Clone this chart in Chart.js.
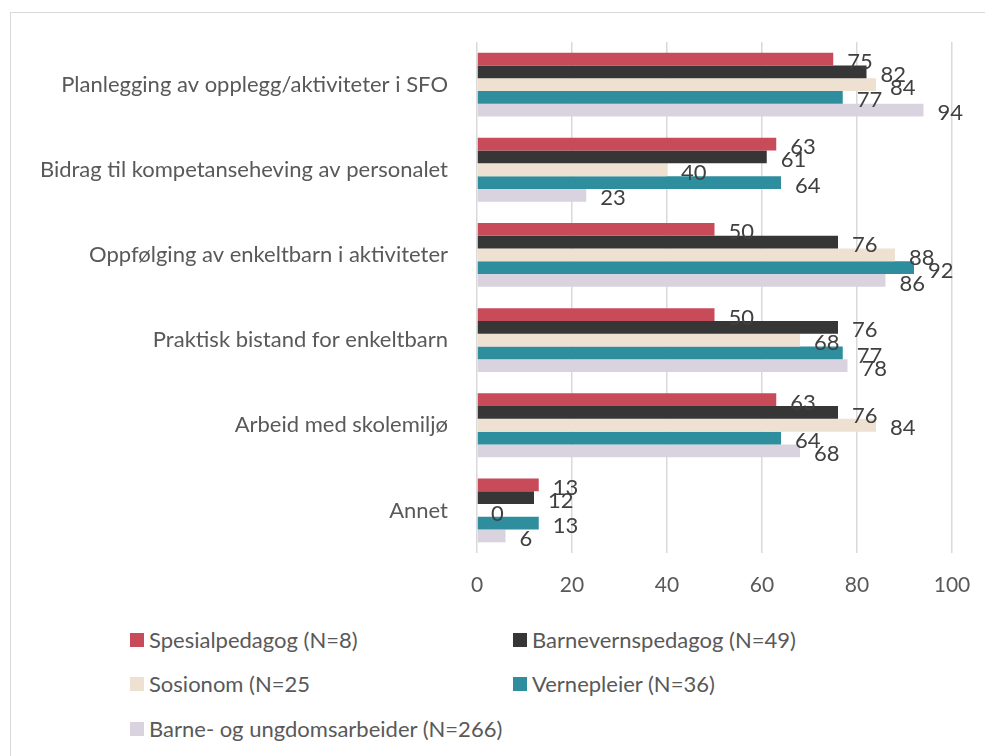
<!DOCTYPE html>
<html>
<head>
<meta charset="utf-8">
<script src="https://cdn.jsdelivr.net/npm/chart.js@4"></script>
<style>
  body { margin: 0; background: #fff; font-family: Lato, sans-serif; }
  #wrap { position: relative; width: 985px; height: 756px; overflow: hidden; }
  #frame { position: absolute; left: 10px; top: 12px; width: 1000px; height: 800px; border: 1px solid #d9d9d9; }
  #chartBox { position: absolute; left: 0; top: 0; width: 985px; height: 605px; }
  #legend { position: absolute; left: 130px; top: 626px; width: 750px; }
  .item { position: absolute; display: flex; align-items: center; font-size: 22px; color: #595959; white-space: nowrap; }
  .box { width: 14px; height: 14px; margin-right: 5px; }
</style>
</head>
<body>
<div id="wrap">
  <div id="frame"></div>
  <div id="chartBox"><canvas id="myChart"></canvas></div>
  <div id="legend"></div>
</div>
<script>
var categories = [
    'Planlegging av opplegg/aktiviteter i SFO',
    'Bidrag til kompetanseheving av personalet',
    'Oppfølging av enkeltbarn i aktiviteter',
    'Praktisk bistand for enkeltbarn',
    'Arbeid med skolemiljø',
    'Annet'
];
var seriesNames = [
    'Spesialpedagog (N=8)',
    'Barnevernspedagog (N=49)',
    'Sosionom (N=25',
    'Vernepleier (N=36)',
    'Barne- og ungdomsarbeider (N=266)'
];
var spesialpedagog = [75, 63, 50, 50, 63, 13];
var barnevernspedagog = [82, 61, 76, 76, 76, 12];
var sosionom = [84, 40, 88, 68, 84, 0];
var vernepleier = [77, 64, 92, 77, 64, 13];
var ungdomsarbeider = [94, 23, 86, 78, 68, 6];
var xTicks = [0, 20, 40, 60, 80, 100];
var colors = ['#C84B5A', '#363636', '#EEE1D1', '#2E8E9E', '#D9D3E0'];

var allValues = [spesialpedagog, barnevernspedagog, sosionom, vernepleier, ungdomsarbeider];

var datasets = allValues.map(function(vals, i) {
    return {
        label: seriesNames[i],
        data: vals,
        backgroundColor: colors[i],
        borderWidth: 0,
        categoryPercentage: 0.75,
        barPercentage: 1.0
    };
});

// draw value labels just past the end of each bar
var valueLabels = {
    id: 'valueLabels',
    afterDatasetsDraw: function(chart) {
        var ctx = chart.ctx;
        ctx.save();
        ctx.font = '22px Lato, sans-serif';
        ctx.fillStyle = '#404040';
        ctx.textAlign = 'left';
        ctx.textBaseline = 'middle';
        chart.data.datasets.forEach(function(ds, i) {
            chart.getDatasetMeta(i).data.forEach(function(bar, j) {
                ctx.fillText(ds.data[j], bar.x + 14, bar.y + 3);
            });
        });
        ctx.restore();
    }
};

var ctx = document.getElementById('myChart').getContext('2d');
var myChart = new Chart(ctx, {
    type: 'bar',
    data: { labels: categories, datasets: datasets },
    plugins: [valueLabels],
    options: {
        indexAxis: 'y',
        responsive: true,
        maintainAspectRatio: false,
        animation: false,
        layout: { padding: { left: 0, right: 33, top: 42, bottom: 0 } },
        plugins: {
            legend: { display: false },
            tooltip: { enabled: false }
        },
        scales: {
            x: {
                min: 0,
                max: 100,
                afterBuildTicks: function(scale) {
                    scale.ticks = xTicks.map(function(v) { return { value: v }; });
                },
                grid: { color: '#d9d9d9', lineWidth: 1.5, drawTicks: false },
                border: { display: false },
                ticks: {
                    padding: 20,
                    color: '#595959',
                    font: { family: 'Lato, sans-serif', size: 21 }
                },
                afterFit: function(scale) {
                    scale.height = 52;
                    scale.paddingLeft = 0;
                    scale.paddingRight = 0;
                }
            },
            y: {
                grid: { display: false, drawTicks: false },
                border: { display: false },
                ticks: {
                    padding: 29,
                    color: '#595959',
                    font: { family: 'Lato, sans-serif', size: 22 }
                },
                afterFit: function(scale) {
                    scale.width = 477;
                    scale.paddingTop = 0;
                    scale.paddingBottom = 0;
                }
            }
        }
    }
});

// legend in two columns
var legend = document.getElementById('legend');
var pos = [[0, 0], [383, 0], [0, 44], [383, 44], [0, 89]];
seriesNames.forEach(function(name, i) {
    var item = document.createElement('div');
    item.className = 'item';
    item.style.left = pos[i][0] + 'px';
    item.style.top = pos[i][1] + 'px';
    item.innerHTML = '<span class="box" style="background:' + colors[i] + '"></span>' + name;
    legend.appendChild(item);
});
</script>
</body>
</html>
